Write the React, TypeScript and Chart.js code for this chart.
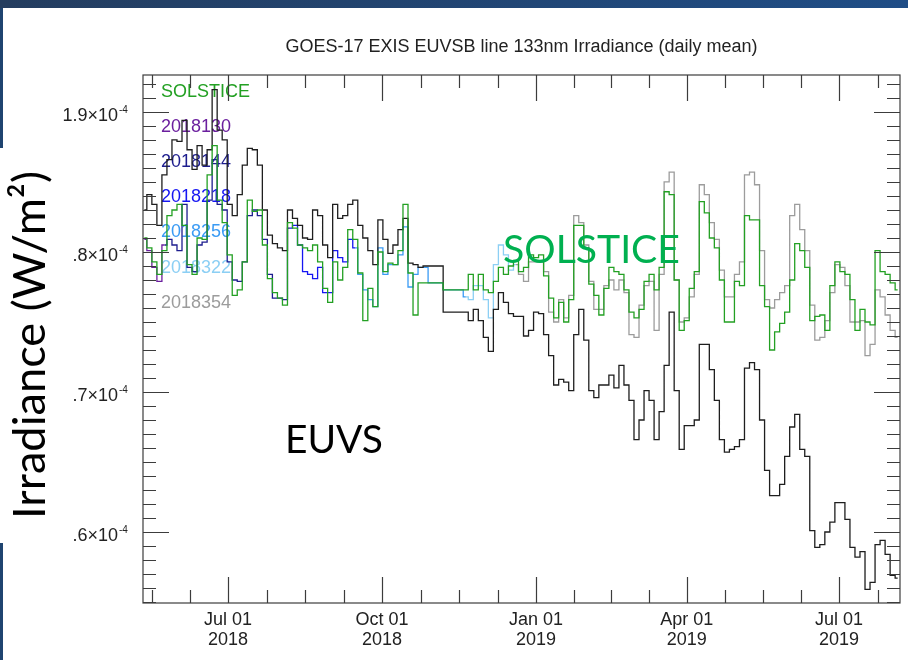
import React, { useEffect, useRef } from 'react';
import { Chart, registerables } from 'chart.js';

Chart.register(...registerables);

// ---------- data (values in units of 1e-4 W/m^2) ----------
const TITLE = 'GOES-17 EXIS EUVSB line 133nm Irradiance (daily mean)';
// day index counted from 2018-01-01 (= 0); one sample every STEP_DAYS days
const START_DAY = 131;
const STEP_DAYS = 3;

// EUVS (uncorrected, black)
const EUVS = [
  1.830, 1.841, 1.834, 1.819, 1.855, 1.866, 1.880, 1.879, 1.894, 1.873,
  1.859, 1.876, 1.862, 1.873, 1.916, 1.887, 1.880, 1.834, 1.826, 1.841,
  1.862, 1.874, 1.873, 1.862, 1.830, 1.812, 1.806, 1.803, 1.801, 1.830,
  1.824, 1.819, 1.810, 1.809, 1.830, 1.826, 1.805, 1.796, 1.834, 1.824,
  1.826, 1.834, 1.837, 1.819, 1.810, 1.801, 1.791, 1.823, 1.809, 1.799,
  1.805, 1.816, 1.824, 1.792, 1.791, 1.789, 1.790, 1.790, 1.790, 1.790,
  1.757, 1.757, 1.757, 1.757, 1.757, 1.751, 1.759, 1.751, 1.739, 1.729,
  1.759, 1.771, 1.764, 1.756, 1.754, 1.754, 1.740, 1.744, 1.757, 1.756,
  1.741, 1.726, 1.705, 1.709, 1.707, 1.701, 1.741, 1.759, 1.737, 1.701,
  1.696, 1.705, 1.705, 1.712, 1.703, 1.719, 1.705, 1.694, 1.666, 1.680,
  1.701, 1.694, 1.666, 1.686, 1.719, 1.757, 1.701, 1.659, 1.676, 1.676,
  1.680, 1.734, 1.734, 1.716, 1.694, 1.666, 1.657, 1.659, 1.661, 1.666,
  1.717, 1.721, 1.716, 1.680, 1.644, 1.626, 1.626, 1.634, 1.654, 1.675,
  1.684, 1.659, 1.654, 1.601, 1.589, 1.591, 1.600, 1.607, 1.621, 1.621,
  1.609, 1.589, 1.582, 1.586, 1.559, 1.564, 1.591, 1.594, 1.584, 1.569,
  1.567,
];

// SOLSTICE (green)
const SOLSTICE = [
  1.810, 1.803, 1.793, 1.784, 1.801, 1.826, 1.830, 1.834, 1.819, 1.791,
  1.784, 1.810, 1.809, 1.855, 1.876, 1.837, 1.821, 1.798, 1.769, 1.773,
  1.793, 1.837, 1.829, 1.830, 1.805, 1.781, 1.771, 1.767, 1.762, 1.821,
  1.817, 1.805, 1.803, 1.801, 1.805, 1.793, 1.774, 1.764, 1.793, 1.780,
  1.789, 1.816, 1.809, 1.785, 1.751, 1.774, 1.761, 1.800, 1.786, 1.792,
  1.791, 1.801, 1.834, 1.785, 1.755, 1.778, 1.778, 1.778, 1.778, 1.778,
  1.773, 1.773, 1.773, 1.773, 1.773, 1.784, 1.773, 1.784, 1.773, 1.771,
  1.779, 1.789, 1.784, 1.790, 1.794, 1.786, 1.789, 1.798, 1.796, 1.798,
  1.783, 1.767, 1.753, 1.764, 1.750, 1.766, 1.819, 1.819, 1.803, 1.777,
  1.769, 1.755, 1.774, 1.789, 1.786, 1.784, 1.773, 1.757, 1.753, 1.759,
  1.779, 1.784, 1.773, 1.789, 1.843, 1.841, 1.780, 1.744, 1.751, 1.774,
  1.786, 1.836, 1.828, 1.810, 1.803, 1.780, 1.750, 1.750, 1.779, 1.776,
  1.826, 1.823, 1.823, 1.776, 1.761, 1.730, 1.743, 1.749, 1.757, 1.780,
  1.806, 1.801, 1.789, 1.751, 1.754, 1.755, 1.744, 1.776, 1.793, 1.786,
  1.784, 1.766, 1.744, 1.759, 1.750, 1.748, 1.801, 1.786, 1.784, 1.778,
  1.773,
];

// EUVS corrected with successive calibration versions (coloured)
const EUVS_CAL = [
  1.809, 1.801, 1.789, 1.779, 1.805, 1.809, 1.805, 1.801, 1.834, 1.789,
  1.786, 1.805, 1.807, 1.837, 1.866, 1.834, 1.830, 1.793, 1.780, 1.779,
  1.793, 1.826, 1.830, 1.826, 1.809, 1.784, 1.767, 1.767, 1.766, 1.817,
  1.819, 1.805, 1.786, 1.784, 1.781, 1.789, 1.771, 1.771, 1.801, 1.796,
  1.793, 1.809, 1.803, 1.784, 1.773, 1.766, 1.761, 1.803, 1.784, 1.791,
  1.791, 1.798, 1.818, 1.775, 1.784, 1.789, 1.789, 1.778, 1.778, 1.778,
  1.773, 1.773, 1.773, 1.773, 1.768, 1.766, 1.776, 1.776, 1.766, 1.753,
  1.791, 1.805, 1.798, 1.787, 1.791, 1.784, 1.779, 1.793, 1.793, 1.793,
  1.786, 1.757, 1.750, 1.766, 1.753, 1.769, 1.826, 1.821, 1.805, 1.779,
  1.759, 1.759, 1.776, 1.780, 1.773, 1.780, 1.771, 1.741, 1.739, 1.762,
  1.776, 1.779, 1.744, 1.784, 1.850, 1.857, 1.780, 1.750, 1.753, 1.768,
  1.784, 1.848, 1.841, 1.821, 1.809, 1.787, 1.768, 1.768, 1.784, 1.793,
  1.855, 1.857, 1.848, 1.801, 1.766, 1.760, 1.766, 1.771, 1.776, 1.826,
  1.834, 1.816, 1.801, 1.762, 1.737, 1.739, 1.751, 1.771, 1.791, 1.789,
  1.776, 1.750, 1.750, 1.751, 1.726, 1.734, 1.773, 1.768, 1.755, 1.744,
  1.739,
];

const VERSION_LABELS = ['2018130', '2018144', '2018218', '2018256', '2018322', '2018354'];
const VERSION_START_DAYS = [129, 143, 217, 255, 321, 353];
const VERSION_COLORS = ['#6b1f9e', '#1d1d8e', '#1616f2', '#3a9bf4', '#8ccff4', '#9c9c9c'];
const SOLSTICE_COLOR = '#23a023';
const EUVS_COLOR = '#1e1e1e';

const X_MIN = 130.2;
const X_MAX = 582.4;
const X_TICK_DAYS = [181, 273, 365, 455, 546];
const X_TICK_LABELS = [
  ['Jul 01', '2018'],
  ['Oct 01', '2018'],
  ['Jan 01', '2019'],
  ['Apr 01', '2019'],
  ['Jul 01', '2019'],
];
const X_MINOR_DAYS = [135.5, 158.25, 204, 227, 250, 296, 319, 342, 387.5, 410, 432.5, 477.75, 500.5, 523.25, 569];

const Y_MIN = 1.5493;
const Y_MAX = 1.9264;
const Y_TICKS = [1.6, 1.7, 1.8, 1.9];
const Y_EXPONENT = '-4';

const SANS = '"Liberation Sans", Arial, Helvetica, "DejaVu Sans", sans-serif';
const SLIDE = 'Lato, "Open Sans", "Noto Sans", sans-serif';
const Y_LABEL_PAD = 25;

const decor = {
  id: 'decor',
  beforeDraw(chart: any) {
    const { ctx, width, height } = chart;
    ctx.save();
    ctx.fillStyle = '#ffffff';
    ctx.fillRect(0, 0, width, height);
    const g = ctx.createLinearGradient(0, 0, width, 0);
    g.addColorStop(0, '#243d5f');
    g.addColorStop(1, '#1f4d86');
    ctx.fillStyle = g;
    ctx.fillRect(0, 0, width, 8);
    ctx.fillStyle = '#1f4470';
    ctx.fillRect(0, 8, 3, height - 8);
    ctx.restore();
  },
  beforeDatasetsDraw(chart: any) {
    const { ctx, chartArea: a, scales } = chart;
    ctx.save();
    // exponent of the y tick labels
    ctx.font = `10px ${SANS}`;
    ctx.fillStyle = '#222222';
    ctx.textAlign = 'left';
    ctx.textBaseline = 'alphabetic';
    Y_TICKS.forEach((v) => {
      const py = scales.y.getPixelForValue(v);
      ctx.fillText(Y_EXPONENT, a.left - Y_LABEL_PAD + 1, py + 1);
    });
    // in-plot legend
    ctx.font = `18px ${SANS}`;
    const items: [string, string][] = [['SOLSTICE', SOLSTICE_COLOR]];
    VERSION_LABELS.forEach((l, k) => items.push([l, VERSION_COLORS[k]]));
    items.forEach(([t, c], k) => {
      ctx.fillStyle = c;
      ctx.fillText(t, a.left + 18, a.top + 21.5 + k * 35.2);
    });
    ctx.restore();
  },
  afterDatasetsDraw(chart: any) {
    const { ctx, chartArea: a, scales } = chart;
    const xs = scales.x;
    const ys = scales.y;
    ctx.save();
    ctx.strokeStyle = '#3c3c3c';
    ctx.lineWidth = 1.2;
    ctx.strokeRect(a.left, a.top, a.right - a.left, a.bottom - a.top);
    ctx.beginPath();
    const xt = (d: number, len: number) => {
      const px = Math.round(xs.getPixelForValue(d)) + 0.5;
      ctx.moveTo(px, a.bottom);
      ctx.lineTo(px, a.bottom - len);
      ctx.moveTo(px, a.top);
      ctx.lineTo(px, a.top + len);
    };
    X_TICK_DAYS.forEach((d) => xt(d, 26));
    X_MINOR_DAYS.forEach((d) => xt(d, 13));
    const yt = (v: number, len: number) => {
      const py = Math.round(ys.getPixelForValue(v)) + 0.5;
      ctx.moveTo(a.left, py);
      ctx.lineTo(a.left + len, py);
      ctx.moveTo(a.right, py);
      ctx.lineTo(a.right - len, py);
    };
    for (let k = 155; k <= 192; k++) {
      yt(k / 100, k % 10 === 0 ? 26 : 13);
    }
    ctx.stroke();
    ctx.restore();
  },
  afterDraw(chart: any) {
    const { ctx } = chart;
    ctx.save();
    // slide text box for the axis title
    ctx.fillStyle = '#ffffff';
    ctx.fillRect(0, 148, 72, 395);
    const fit = (text: string, w: number) => {
      ctx.font = `100px ${SLIDE}`;
      return (100 * w) / ctx.measureText(text).width;
    };
    const yTitle = 'Irradiance (W/m\u00B2)';
    ctx.fillStyle = '#000000';
    ctx.font = `${fit(yTitle, 348)}px ${SLIDE}`;
    ctx.translate(45, 345);
    ctx.rotate(-Math.PI / 2);
    ctx.textAlign = 'center';
    ctx.textBaseline = 'alphabetic';
    ctx.fillText(yTitle, 0, 0);
    ctx.setTransform(1, 0, 0, 1, 0, 0);
    ctx.textAlign = 'left';
    ctx.font = `${fit('EUVS', 98)}px ${SLIDE}`;
    ctx.fillStyle = '#000000';
    ctx.fillText('EUVS', 285, 453);
    ctx.font = `${fit('SOLSTICE', 177)}px ${SLIDE}`;
    ctx.fillStyle = '#00b050';
    ctx.fillText('SOLSTICE', 503, 263);
    ctx.restore();
  },
};

export default function App() {
  const ref = useRef<HTMLCanvasElement>(null);
  useEffect(() => {
    const canvas = ref.current;
    if (!canvas) return;
    const days = EUVS.map((_, i) => START_DAY + i * STEP_DAYS);
    const pts = (arr: number[]) => arr.map((v, i) => ({ x: days[i], y: v }));
    const versionSets = VERSION_LABELS.map((label, k) => {
      const lo = VERSION_START_DAYS[k];
      const hi = k + 1 < VERSION_START_DAYS.length ? VERSION_START_DAYS[k + 1] : Infinity;
      const data: { x: number; y: number }[] = [];
      for (let i = 0; i < days.length; i++) {
        if (days[i] >= lo && days[i] < hi) data.push({ x: days[i], y: EUVS_CAL[i] });
        else if (days[i] >= hi) {
          data.push({ x: days[i], y: EUVS_CAL[i] });
          break;
        }
      }
      return {
        label,
        data,
        borderColor: VERSION_COLORS[k],
        borderWidth: 1.3,
        pointRadius: 0,
        stepped: 'middle' as const,
        fill: false,
      };
    });
    const chart = new Chart(canvas, {
      type: 'line',
      data: {
        datasets: [
          {
            label: 'SOLSTICE',
            data: pts(SOLSTICE),
            borderColor: SOLSTICE_COLOR,
            borderWidth: 1.3,
            pointRadius: 0,
            stepped: 'middle',
            fill: false,
          },
          {
            label: 'EUVS',
            data: pts(EUVS),
            borderColor: EUVS_COLOR,
            borderWidth: 1.3,
            pointRadius: 0,
            stepped: 'middle',
            fill: false,
          },
          ...versionSets,
        ] as any,
      },
      options: {
        responsive: false,
        animation: false,
        devicePixelRatio: 1,
        layout: { padding: { left: 0, right: 8, top: 0, bottom: 0 } },
        plugins: {
          legend: { display: false },
          tooltip: { enabled: false },
          title: {
            display: true,
            text: TITLE,
            fullSize: false,
            color: '#222222',
            font: { family: SANS, size: 18, weight: 'normal', lineHeight: 1.2 },
            padding: { top: 36, bottom: 17.4 },
          },
        },
        scales: {
          x: {
            type: 'linear',
            min: X_MIN,
            max: X_MAX,
            grid: { display: false, drawTicks: false },
            border: { display: false },
            afterBuildTicks: (s: any) => {
              s.ticks = X_TICK_DAYS.map((v) => ({ value: v }));
            },
            afterFit: (s: any) => {
              s.height = 57;
            },
            ticks: {
              autoSkip: false,
              maxRotation: 0,
              minRotation: 0,
              padding: 7,
              color: '#222222',
              font: { family: SANS, size: 18, lineHeight: '20px' as any },
              callback: (v: any) => {
                const k = X_TICK_DAYS.indexOf(Number(v));
                return k >= 0 ? X_TICK_LABELS[k] : '';
              },
            },
          },
          y: {
            type: 'linear',
            min: Y_MIN,
            max: Y_MAX,
            grid: { display: false, drawTicks: false },
            border: { display: false },
            afterBuildTicks: (s: any) => {
              s.ticks = Y_TICKS.map((v) => ({ value: v }));
            },
            afterFit: (s: any) => {
              s.width = 143;
            },
            ticks: {
              autoSkip: false,
              padding: Y_LABEL_PAD,
              labelOffset: 4.5,
              color: '#222222',
              font: { family: SANS, size: 18 },
              callback: (v: any) => `${Number(v).toFixed(1)}\u00D710`,
            },
          },
        },
      } as any,
      plugins: [decor],
    });
    return () => chart.destroy();
  }, []);
  return (
    <div style={{ position: 'absolute', left: 0, top: 0, width: 908, height: 660 }}>
      <canvas ref={ref} width={908} height={660} style={{ display: 'block' }} />
    </div>
  );
}
